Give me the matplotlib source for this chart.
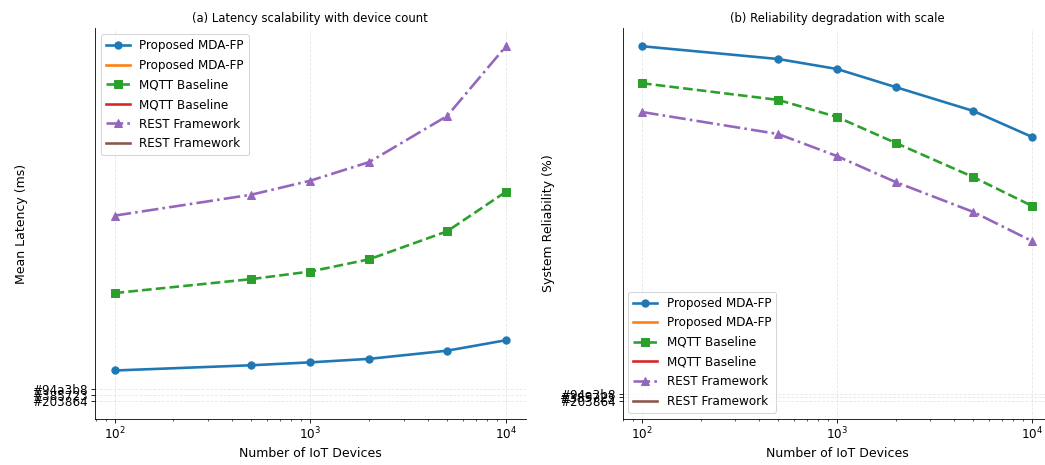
import numpy as np
import matplotlib
matplotlib.use("Agg")
import matplotlib.pyplot as plt

devices = [100, 500, 1000, 2000, 5000, 10000]

latency_mda = [5.2, 6.1, 6.6, 7.2, 8.6, 10.4]
latency_mqtt = [18.5, 20.9, 22.2, 24.3, 29.1, 35.9]
latency_rest = [31.8, 35.4, 37.8, 41.0, 48.9, 60.9]

rel_mda = [99.7, 96.1, 93.3, 88.2, 81.5, 74.2]
rel_mqtt = [89.3, 84.6, 79.8, 72.5, 62.9, 54.8]
rel_rest = [81.2, 75.0, 68.8, 61.5, 53.1, 44.9]

series_names = ["Proposed MDA-FP", "MQTT Baseline", "REST Framework"]
color_tags = ["#203864", "#385723", "#94a3b8"]
fmts = ["o-", "s--", "^-."]

titles = ["(a) Latency scalability with device count",
          "(b) Reliability degradation with scale"]
ylabels = ["Mean Latency (ms)", "System Reliability (%)"]
xlabel = "Number of IoT Devices"

DPI = 75
fig = plt.figure(figsize=(1045 / DPI, 465 / DPI), dpi=DPI)
ax1 = fig.add_axes([95 / 1045, 46.5 / 465, 430.5 / 1045, 390 / 465])
ax2 = fig.add_axes([622.5 / 1045, 46.5 / 465, 429 / 1045, 390 / 465])

panels = [(ax1, [latency_mda, latency_mqtt, latency_rest], "upper left"),
          (ax2, [rel_mda, rel_mqtt, rel_rest], "lower left")]

for i, (ax, data, loc) in enumerate(panels):
    for k, (name, vals, fmt) in enumerate(zip(series_names, data, fmts)):
        ax.plot(devices, vals, fmt, color=f"C{2 * k}", linewidth=2.5,
                markersize=7, label=name)
        # stray single-point series (as in the original)
        ax.plot([0], [k], color=f"C{2 * k + 1}", linewidth=2.5, label=name)
    ax.set_xscale("log")
    ax.set_yticks(range(len(color_tags)), color_tags)
    ax.set_title(titles[i], fontsize=11.2)
    ax.set_xlabel(xlabel, fontsize=12)
    ax.set_ylabel(ylabels[i], fontsize=12)
    ax.tick_params(labelsize=11.5)
    ax.grid(True, linestyle="--", alpha=0.3)
    ax.spines["top"].set_visible(False)
    ax.spines["right"].set_visible(False)
    ax.legend(loc=loc, fontsize=11.5, labelspacing=0.55)

fig.savefig("out.png", dpi=DPI)
